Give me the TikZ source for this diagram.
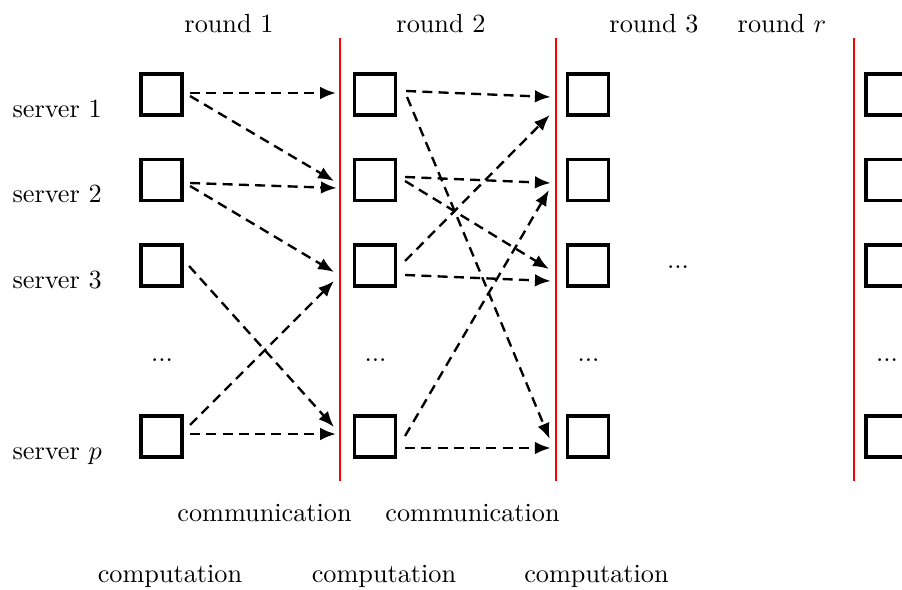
\documentclass[tikz,border=0pt]{standalone}
\usetikzlibrary{arrows.meta}
\begin{document}
\begin{tikzpicture}[x=0.381pt,y=-0.381pt,
  box/.style={draw,line width=1.4pt,minimum size=15.6pt,inner sep=0pt},
  lbl/.style={inner sep=0pt,anchor=base},
  srv/.style={inner sep=0pt,anchor=base west},
  msg/.style={dash pattern=on 3.8pt off 2.4pt,line width=0.9pt,-{Latex[length=6pt,width=4.8pt]}},
  sep/.style={red,line width=0.75pt}]
\useasboundingbox (0,0) rectangle (902,590);
% boxes
\foreach \c/\x in {1/161.5,2/375,3/588,4/886.5}{
  \node[box] (b\c1) at (\x,94.5) {};
  \node[box] (b\c2) at (\x,180) {};
  \node[box] (b\c3) at (\x,265.3) {};
  \node[box] (b\c p) at (\x,436.3) {};
  \node[lbl] (d\c) at (\x+0.5,361) {...};
}
% separators
\draw[sep] (340,37.5) -- (340,480.7);
\draw[sep] (555.7,37.5) -- (555.7,480.7);
\draw[sep] (854,37.5) -- (854,480.7);
% labels
\node[lbl] (r1) at (229,32) {round 1};
\node[lbl] (r2) at (441,32) {round 2};
\node[lbl] (r3) at (654,32) {round 3};
\node[lbl] (rr) at (782,32) {round $r$};
\node[srv] (s1) at (12,117) {server 1};
\node[srv] (s2) at (12,202.5) {server 2};
\node[srv] (s3) at (12,288) {server 3};
\node[srv] (sp) at (12,459) {server $p$};
\node[lbl] (dm) at (678,268) {...};
\node[lbl] (cm1) at (264.5,521) {communication};
\node[lbl] (cm2) at (472.5,521) {communication};
\node[lbl] (cp1) at (170,582) {computation};
\node[lbl] (cp2) at (384,582) {computation};
\node[lbl] (cp3) at (596.5,582) {computation};
% round 1 messages
\draw[msg] ([shift={(6.25,-1.5)}]b11.east) -- ([shift={(-16.75,-1.5)}]b21.west);
\draw[msg] ([shift={(6.25,1.5)}]b11.east) -- ([shift={(-18.75,1)}]b22.west);
\draw[msg] ([shift={(6.25,3)}]b12.east) -- ([shift={(-16,8)}]b22.west);
\draw[msg] ([shift={(6.25,6)}]b12.east) -- ([shift={(-18.75,6.7)}]b23.west);
\draw[msg] ([shift={(5.25,0.7)}]b13.east) -- ([shift={(-18.75,-9.3)}]b2p.west);
\draw[msg] ([shift={(6.25,-11.3)}]b1p.east) -- ([shift={(-18.75,15.7)}]b23.west);
\draw[msg] ([shift={(6.25,-2.3)}]b1p.east) -- ([shift={(-16.75,-2.3)}]b2p.west);
% round 2 messages
\draw[msg] ([shift={(8.75,-3.5)}]b21.east) -- ([shift={(-15,2.5)}]b31.west);
\draw[msg] ([shift={(9.75,2.5)}]b21.east) -- ([shift={(-16,2.7)}]b3p.west);
\draw[msg] ([shift={(7.75,-3)}]b22.east) -- ([shift={(-15,3)}]b32.west);
\draw[msg] ([shift={(7.75,1)}]b22.east) -- ([shift={(-16.75,3.7)}]b33.west);
\draw[msg] ([shift={(7.75,-4.3)}]b23.east) -- ([shift={(-16,20.5)}]b31.west);
\draw[msg] ([shift={(7.75,9.7)}]b23.east) -- ([shift={(-15,15.7)}]b33.west);
\draw[msg] ([shift={(7.75,-0.3)}]b2p.east) -- ([shift={(-16.75,10)}]b32.west);
\draw[msg] ([shift={(7.75,11.7)}]b2p.east) -- ([shift={(-15,11.7)}]b3p.west);
\end{tikzpicture}
\end{document}
